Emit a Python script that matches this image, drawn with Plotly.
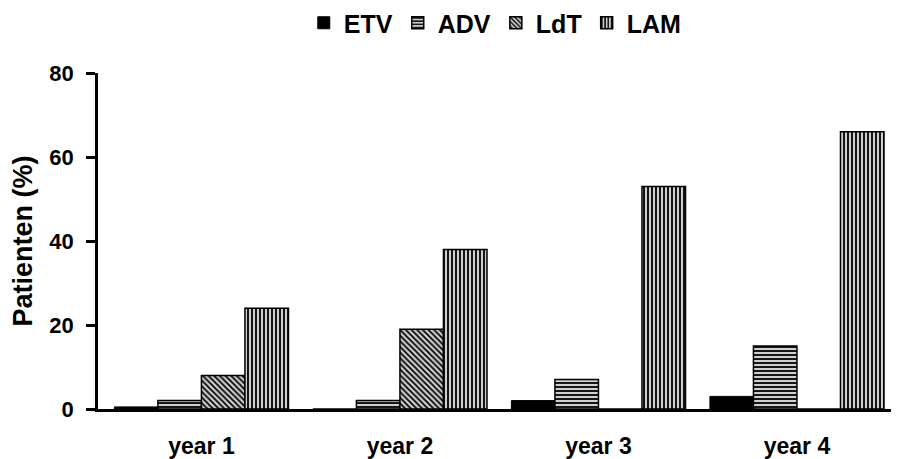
import plotly.graph_objects as go

years = ['year 1', 'year 2', 'year 3', 'year 4']
etv = [0.5, 0, 2, 3]
adv = [2, 2, 7, 15]
ldt = [8, 19, 0, 0]
lam = [24, 38, 53, 66]

font = 'Liberation Sans, Arial, sans-serif'

series = [
    ('ETV', etv, ''),
    ('ADV', adv, '-'),
    ('LdT', ldt, '\\'),
    ('LAM', lam, '|'),
]

fig = go.Figure()
for name, vals, shape in series:
    if shape == '':
        marker = dict(color='black', line=dict(color='black', width=1))
    else:
        marker = dict(
            color='white',
            line=dict(color='black', width=1.5),
            pattern=dict(shape=shape, fgcolor='black', bgcolor='#cfcfcf',
                         size=4, solidity=0.45, fillmode='replace')
        )
    fig.add_trace(go.Bar(x=years, y=vals, name=name, marker=marker))

fig.update_layout(
    width=891, height=451,
    barmode='group', bargap=0.123, bargroupgap=0,
    plot_bgcolor='white', paper_bgcolor='white',
    margin=dict(l=90, r=0, t=65, b=50, autoexpand=False),
    font=dict(family=font, color='black'),
    legend=dict(orientation='h', x=0.496, xanchor='center',
                y=1 - 15 / 451, yanchor='middle', yref='container',
                font=dict(size=25, weight='bold'), itemwidth=30,
                traceorder='normal'),
)
fig.update_xaxes(
    range=[-0.521, 3.514], automargin=False,
    showline=True, linecolor='black', linewidth=3,
    ticks='', tickfont=dict(size=23, weight='bold'), ticklabelstandoff=14,
    showgrid=False,
)
fig.update_yaxes(
    range=[0, 80], tickvals=[0, 20, 40, 60, 80], automargin=False,
    showline=True, linecolor='black', linewidth=2.5,
    ticks='outside', ticklen=9, tickwidth=2.5, tickcolor='black',
    tickfont=dict(size=22, weight='bold'), ticklabelstandoff=8,
    title=dict(text='Patienten (%)', font=dict(size=27, weight='bold'), standoff=26),
    showgrid=False, zeroline=False,
)

fig.write_html("out.html")
